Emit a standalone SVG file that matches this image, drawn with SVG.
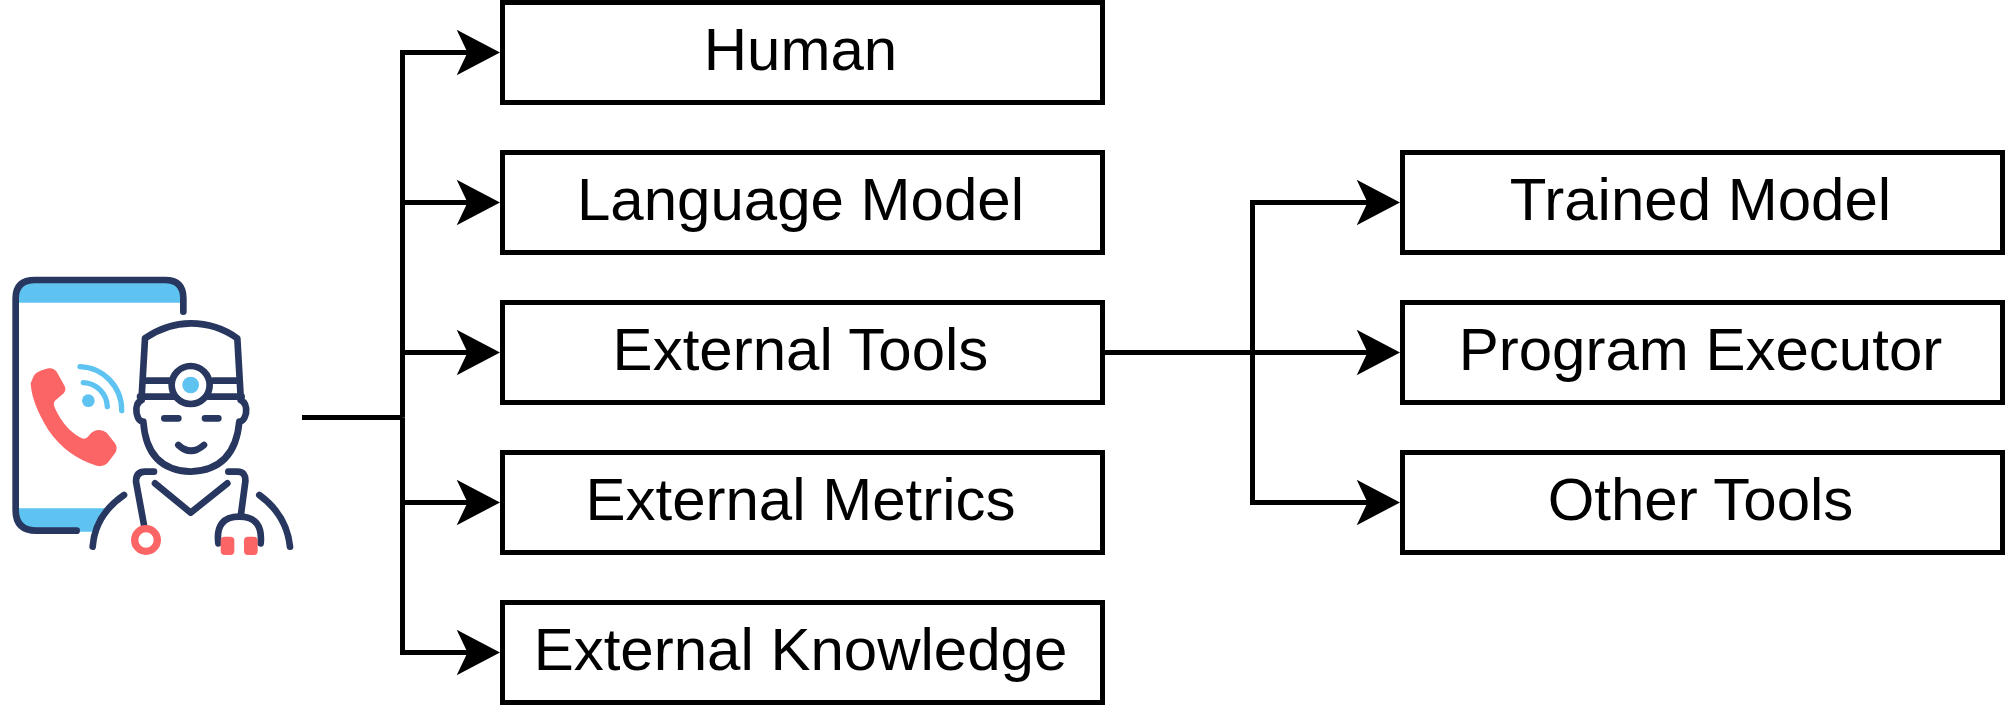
<svg xmlns="http://www.w3.org/2000/svg" width="2005" height="705" viewBox="0 0 2005 705">
<style>
.box{fill:#fff;stroke:#000;stroke-width:5}
.lbl{font-family:"Liberation Sans",Arial,sans-serif;font-size:60px;fill:#000;text-anchor:middle}
.c{fill:none;stroke:#000;stroke-width:5}
.n{fill:none;stroke:#28375f;stroke-width:20;stroke-linecap:round;stroke-linejoin:round}
.b{fill:#5fc3f2}
.w{fill:none;stroke:#5fc3f2;stroke-width:16;stroke-linecap:round}
.r{fill:#fb6565}
</style>
<defs>
<marker id="a" markerUnits="userSpaceOnUse" markerWidth="46" markerHeight="48" refX="13.3" refY="22.7" orient="auto" overflow="visible">
<path d="M0 0L43.3 22.7L0 45.4L10.8 22.7Z" fill="#000"/>
</marker>
</defs>
<rect width="2005" height="705" fill="#fff"/>
<g id="icon" transform="translate(0 260) scale(.33333)">
<path class="b" d="M47 128V110Q47 60 105 60H495Q550 60 550 110V128Z"/>
<path class="b" d="M47 745H320Q295 775 285 815H110Q47 812 47 745Z"/>
<path class="n" d="M550 155V115Q550 60 495 60H105Q47 60 47 115V750Q47 812 110 812H230"/>
<path class="r" d="M100 350Q105 335 145 325Q160 322 170 335L195 380Q200 395 185 405L165 422Q158 430 165 445Q195 510 245 535Q258 540 268 525Q280 510 298 510Q310 510 320 518L345 550Q355 565 345 580L322 610Q310 622 290 617Q200 590 145 510Q95 430 92 370Z"/>
<path class="w" d="M240 320A130 130 0 0 1 365 452"/>
<path class="w" d="M250 368A75 75 0 0 1 322 440"/>
<circle class="b" cx="265" cy="422" r="19"/>
<path class="n" d="M425 410L435 235Q500 190 572 190Q650 190 712 235L722 410"/>
<path class="n" d="M432 362H510M640 362H715M420 410H520M625 410H725"/>
<circle class="n" cx="572" cy="375" r="57"/>
<circle class="b" cx="572" cy="375" r="25"/>
<path class="n" d="M425 420Q405 430 410 460Q415 485 430 485Q440 630 572 635Q705 630 718 485Q732 485 738 460Q742 430 722 420"/>
<path class="n" d="M493 475H535M615 475H655M535 555Q572 590 612 555"/>
<path class="n" d="M462 635H435Q408 635 408 665L432 795"/>
<path class="n" d="M685 635H712Q738 635 736 665L722 770"/>
<path class="n" d="M465 670L572 758L682 670"/>
<path class="n" d="M372 705Q285 765 278 860"/>
<path class="n" d="M778 705Q860 765 870 860"/>
<path class="n" d="M655 850Q645 770 718 770Q790 770 782 850"/>
<circle cx="438" cy="840" r="34" fill="#fff" stroke="#fb6565" stroke-width="22"/>
<rect class="r" x="662" y="830" width="41" height="55" rx="12"/>
<rect class="r" x="732" y="830" width="41" height="55" rx="12"/>
</g>
<g id="connectors">
<path class="c" d="M302 417.500H402.500"/>
<path class="c" marker-end="url(#a)" d="M402.500 417.500V52.500H470"/>
<path class="c" marker-end="url(#a)" d="M402.500 202.500H470"/>
<path class="c" marker-end="url(#a)" d="M402.500 352.500H470"/>
<path class="c" marker-end="url(#a)" d="M402.500 502.500H470"/>
<path class="c" marker-end="url(#a)" d="M402.500 417.500V652.500H470"/>
<path class="c" marker-end="url(#a)" d="M1105 352.500H1252.500V202.500H1370"/>
<path class="c" marker-end="url(#a)" d="M1105 352.500H1370"/>
<path class="c" marker-end="url(#a)" d="M1252.500 352.500V502.500H1370"/>
</g>
<g id="human"><rect class="box" x="502.500" y="2.500" width="600" height="100"/><text class="lbl" x="800.500" y="70">Human</text></g>
<g id="language-model"><rect class="box" x="502.500" y="152.500" width="600" height="100"/><text class="lbl" x="800.500" y="220">Language Model</text></g>
<g id="external-tools"><rect class="box" x="502.500" y="302.500" width="600" height="100"/><text class="lbl" x="800.500" y="370">External Tools</text></g>
<g id="external-metrics"><rect class="box" x="502.500" y="452.500" width="600" height="100"/><text class="lbl" x="800.500" y="520">External Metrics</text></g>
<g id="external-knowledge"><rect class="box" x="502.500" y="602.500" width="600" height="100"/><text class="lbl" x="800.500" y="670">External Knowledge</text></g>
<g id="trained-model"><rect class="box" x="1402.500" y="152.500" width="600" height="100"/><text class="lbl" x="1700.500" y="220">Trained Model</text></g>
<g id="program-executor"><rect class="box" x="1402.500" y="302.500" width="600" height="100"/><text class="lbl" x="1700.500" y="370">Program Executor</text></g>
<g id="other-tools"><rect class="box" x="1402.500" y="452.500" width="600" height="100"/><text class="lbl" x="1700.500" y="520">Other Tools</text></g>
</svg>
